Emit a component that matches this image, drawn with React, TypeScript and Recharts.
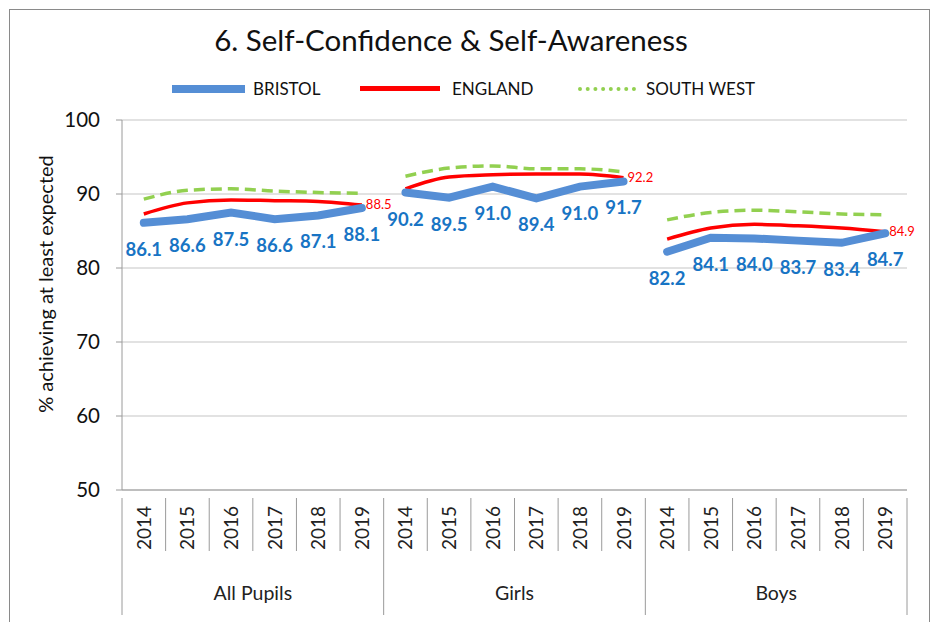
import React from 'react';
import { LineChart, Line, XAxis, YAxis, CartesianGrid, LabelList } from 'recharts';

const years = ['2014', '2015', '2016', '2017', '2018', '2019'];
const groups = ['All Pupils', 'Girls', 'Boys'];

const bristolAll = [86.1, 86.6, 87.5, 86.6, 87.1, 88.1];
const bristolGirls = [90.2, 89.5, 91.0, 89.4, 91.0, 91.7];
const bristolBoys = [82.2, 84.1, 84.0, 83.7, 83.4, 84.7];

const englandAll = [87.3, 88.8, 89.2, 89.1, 89.0, 88.5];
const englandGirls = [90.7, 92.3, 92.6, 92.7, 92.7, 92.2];
const englandBoys = [83.9, 85.4, 85.9, 85.7, 85.4, 84.9];

const swAll = [89.3, 90.5, 90.7, 90.4, 90.2, 90.1];
const swGirls = [92.4, 93.5, 93.8, 93.4, 93.4, 93.0];
const swBoys = [86.5, 87.5, 87.8, 87.6, 87.3, 87.2];

const yTicks = [50, 60, 70, 80, 90, 100];

const bristol = [bristolAll, bristolGirls, bristolBoys];
const england = [englandAll, englandGirls, englandBoys];
const sw = [swAll, swGirls, swBoys];

const data: any[] = [];
groups.forEach((g, gi) => {
  years.forEach((y, i) => {
    const row: any = { key: gi + '-' + y, year: y, group: g };
    row['b' + gi] = bristol[gi][i];
    row['e' + gi] = england[gi][i];
    row['s' + gi] = sw[gi][i];
    data.push(row);
  });
});

const FONT = 'Lato, "Open Sans", sans-serif';
const W = 937;
const H = 622;
const LEFT = 122;
const RIGHT = 30;
const BOTTOM = 132;
const BAND = (W - LEFT - RIGHT) / data.length;

const XTick = (props: any) => {
  const { x, y, payload, index } = props;
  const i = index % 6;
  const row = data[index];
  const left = x - BAND / 2;
  const els: any[] = [];
  els.push(
    <line key="s" x1={left} x2={left} y1={y} y2={i === 0 ? y + 117 : y + 53} stroke="#9a9a9a" strokeWidth={1} />
  );
  if (index === data.length - 1) {
    els.push(<line key="r" x1={x + BAND / 2} x2={x + BAND / 2} y1={y} y2={y + 117} stroke="#9a9a9a" strokeWidth={1} />);
  }
  els.push(
    <text key="t" x={x + 7} y={y + 30} transform={`rotate(-90 ${x + 7} ${y + 30})`} textAnchor="middle" fontSize={19} fill="#222" fontFamily={FONT}>
      {payload.value}
    </text>
  );
  if (i === 2) {
    els.push(
      <text key="g" x={x + BAND / 2} y={y + 102} textAnchor="middle" fontSize={19.5} fill="#222" fontFamily={FONT}>
        {row.group}
      </text>
    );
  }
  return <g>{els}</g>;
};

const BristolLabel = (props: any) => {
  const { x, y, value } = props;
  if (value == null) return null;
  return (
    <text x={x} y={y + 33} textAnchor="middle" fontSize={18.5} fontWeight={700} fill="#1874C4" fontFamily={FONT}>
      {value.toFixed(1)}
    </text>
  );
};

const EnglandLabel = (props: any) => {
  const { x, y, value, index } = props;
  if (value == null || index % 6 !== 5) return null;
  return (
    <text x={x + 4} y={y + 4} textAnchor="start" fontSize={13} fill="#FF0000" fontFamily={FONT}>
      {value.toFixed(1)}
    </text>
  );
};

export default function App() {
  return (
    <div style={{ position: 'absolute', left: 0, top: 0, width: W, height: H, background: '#fff', fontFamily: FONT }}>
      <div style={{ position: 'absolute', left: 9, top: 9, width: 921, height: 640, border: '1.5px solid #8a8a8a', borderBottom: 'none', boxSizing: 'border-box' }} />
      <div style={{ position: 'absolute', left: 0, width: 902, top: 22, textAlign: 'center', fontSize: 29.5, color: '#111' }}>
        6. Self-Confidence &amp; Self-Awareness
      </div>
      <div style={{ position: 'absolute', top: 78, left: 0, width: W, height: 20, fontSize: 17, color: '#111' }}>
        <div style={{ position: 'absolute', left: 172, top: 7, width: 73, height: 8, background: '#558ED5' }} />
        <div style={{ position: 'absolute', left: 253, top: 0 }}>BRISTOL</div>
        <div style={{ position: 'absolute', left: 360, top: 8, width: 80, height: 5, background: '#FF0000' }} />
        <div style={{ position: 'absolute', left: 452, top: 0 }}>ENGLAND</div>
        <div style={{ position: 'absolute', left: 578, top: 9, width: 58, height: 0, borderTop: '4px dotted #92D050' }} />
        <div style={{ position: 'absolute', left: 646, top: 0 }}>SOUTH WEST</div>
      </div>
      <div style={{ position: 'absolute', left: 45, top: 284, width: 0, height: 0 }}>
        <div style={{ position: 'absolute', transform: 'translate(-50%, -50%) rotate(-90deg)', whiteSpace: 'nowrap', fontSize: 20, color: '#111' }}>
          % achieving at least expected
        </div>
      </div>
      <div style={{ position: 'absolute', left: 0, top: 0 }}>
        <LineChart width={W} height={H} data={data} margin={{ top: 120, right: RIGHT, bottom: 0, left: 0 }}>
          <CartesianGrid vertical={false} stroke="#d9d9d9" strokeWidth={1.3} />
          <XAxis
            dataKey="year"
            height={BOTTOM}
            interval={0}
            tickLine={false}
            padding={{ left: BAND / 2, right: BAND / 2 }}
            stroke="#9a9a9a"
            tick={<XTick />}
          />
          <YAxis
            width={LEFT}
            domain={[50, 100]}
            ticks={yTicks}
            interval={0}
            tickSize={6}
            tickMargin={16}
            stroke="#9a9a9a"
            tick={{ fontSize: 20.5, fill: '#111', fontFamily: FONT }}
          />
          {groups.map((g, gi) => (
            <Line key={'s' + gi} dataKey={'s' + gi} type="monotone" stroke="#92D050" strokeWidth={3.5} strokeDasharray="11 6" dot={false} isAnimationActive={false} />
          ))}
          {groups.map((g, gi) => (
            <Line key={'e' + gi} dataKey={'e' + gi} type="monotone" stroke="#FF0000" strokeWidth={3.5} dot={false} isAnimationActive={false}>
              <LabelList dataKey={'e' + gi} content={<EnglandLabel />} />
            </Line>
          ))}
          {groups.map((g, gi) => (
            <Line key={'b' + gi} dataKey={'b' + gi} type="linear" stroke="#558ED5" strokeWidth={8} strokeLinecap="round" dot={false} isAnimationActive={false}>
              <LabelList dataKey={'b' + gi} content={<BristolLabel />} />
            </Line>
          ))}
        </LineChart>
      </div>
    </div>
  );
}
